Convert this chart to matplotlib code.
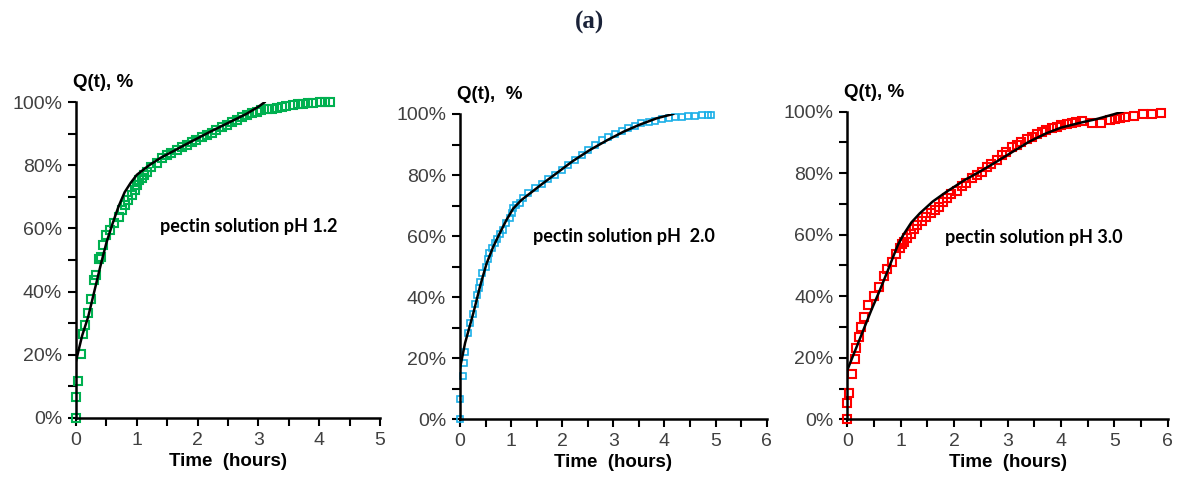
import matplotlib.pyplot as plt
from matplotlib.ticker import MultipleLocator, PercentFormatter

# Данные: экспериментальные точки (время, ч; высвобождение, %)
t_ph12 = [0, 0, 0.03, 0.08, 0.12, 0.14, 0.19, 0.25, 0.29, 0.33, 0.38, 0.41, 0.45, 0.49,
          0.56, 0.63, 0.70, 0.75, 0.81, 0.86, 0.92, 0.97, 1.00, 1.03, 1.08, 1.11, 1.16,
          1.24, 1.33, 1.41, 1.49, 1.57, 1.66, 1.74, 1.82, 1.90, 1.98, 2.07, 2.15, 2.23,
          2.31, 2.40, 2.48, 2.56, 2.64, 2.73, 2.81, 2.89, 2.97, 3.05, 3.14, 3.22, 3.30,
          3.38, 3.46, 3.57, 3.65, 3.74, 3.82, 3.90, 4.01, 4.10, 4.18]
q_ph12 = [0, 6.7, 11.6, 20.2, 26.4, 29.4, 33.1, 37.5, 43.7, 45.2, 50.3, 51.0, 54.8, 57.9,
          59.5, 61.6, 63.7, 65.9, 67.4, 69.0, 70.6, 72.2, 73.8, 75.4, 75.9, 77.0, 78.0,
          79.6, 80.7, 82.2, 83.3, 84.0, 84.9, 85.7, 86.5, 87.5, 88.1, 88.9, 89.6, 90.4,
          91.2, 92.1, 92.8, 93.9, 94.4, 95.2, 96.0, 96.5, 97.0, 97.4, 97.8, 98.0, 98.2,
          98.5, 98.7, 99.2, 99.4, 99.6, 99.8, 99.9, 100, 100, 100]

t_ph20 = [0, 0.01, 0.05, 0.08, 0.10, 0.16, 0.20, 0.25, 0.29, 0.34, 0.38, 0.40, 0.44, 0.51,
          0.54, 0.57, 0.62, 0.68, 0.73, 0.78, 0.85, 0.91, 0.98, 1.01, 1.04, 1.10, 1.17,
          1.24, 1.34, 1.47, 1.60, 1.73, 1.86, 1.99, 2.12, 2.25, 2.38, 2.51, 2.64, 2.77,
          2.90, 3.03, 3.16, 3.29, 3.42, 3.55, 3.69, 3.82, 3.95, 4.08, 4.21, 4.34, 4.47,
          4.60, 4.73, 4.86, 4.92]
q_ph20 = [0, 6.6, 14.2, 18.3, 22.2, 28.2, 31.4, 34.5, 37.8, 40.7, 42.9, 45.1, 48.0, 50.0,
          52.4, 54.6, 56.0, 57.6, 59.0, 60.7, 62.0, 64.2, 65.8, 67.5, 69.1, 70.2, 71.0,
          72.4, 74.0, 75.7, 77.1, 78.6, 80.0, 81.7, 83.3, 84.9, 86.6, 88.2, 89.8, 91.5,
          92.6, 93.4, 94.5, 95.3, 96.1, 96.9, 97.5, 97.8, 98.3, 98.6, 98.9, 99.1, 99.3,
          99.5, 99.6, 99.7, 99.7]

t_ph30 = [0, 0, 0.03, 0.09, 0.14, 0.17, 0.22, 0.26, 0.31, 0.39, 0.50, 0.60, 0.69, 0.75,
          0.83, 0.91, 0.99, 1.02, 1.06, 1.11, 1.19, 1.24, 1.31, 1.39, 1.47, 1.56, 1.64,
          1.72, 1.80, 1.87, 1.95, 2.05, 2.14, 2.23, 2.33, 2.42, 2.52, 2.61, 2.70, 2.80,
          2.89, 2.98, 3.08, 3.17, 3.26, 3.36, 3.45, 3.55, 3.64, 3.73, 3.83, 3.92, 4.01,
          4.11, 4.20, 4.29, 4.39, 4.58, 4.76, 4.92, 5.01, 5.10, 5.20, 5.36, 5.54, 5.70, 5.87]
q_ph30 = [0, 5.4, 8.7, 14.6, 19.6, 23.1, 26.9, 30.1, 33.4, 37.2, 40.1, 43.1, 46.6, 48.8,
          51.2, 53.6, 55.6, 56.9, 57.7, 58.8, 60.2, 61.8, 63.2, 64.6, 65.9, 67.0, 68.0,
          69.1, 70.7, 71.8, 73.2, 74.3, 75.8, 76.9, 78.3, 79.4, 80.5, 81.9, 83.0, 84.3,
          85.9, 87.0, 88.4, 89.2, 90.2, 91.0, 91.9, 92.7, 93.5, 94.0, 94.6, 95.1, 95.6,
          96.0, 96.4, 96.7, 97.1, 96.2, 96.4, 97.3, 97.7, 98.0, 98.3, 98.7, 99.1, 99.4, 99.7]

# Модельные кривые (аппроксимация)
tf_ph12 = [0, 0.05, 0.1, 0.2, 0.3, 0.4, 0.5, 0.6, 0.7, 0.8, 0.9, 1.0, 1.2, 1.4, 1.6,
           1.8, 2.0, 2.2, 2.4, 2.6, 2.8, 3.0, 3.1]
qf_ph12 = [18, 22, 26, 32, 40, 48, 55.5, 61.5, 67, 71.5, 74.5, 77, 80, 82.5, 84.5,
           86.6, 88.6, 90.6, 92.5, 94.4, 96.3, 98.6, 100]

tf_ph20 = [0, 0.1, 0.26, 0.4, 0.52, 0.65, 0.78, 0.9, 1.04, 1.2, 1.37, 1.6, 1.89, 2.2,
           2.54, 2.9, 3.2, 3.5, 3.85, 4.17]
qf_ph20 = [16.7, 25, 34.7, 44, 51, 56.5, 61, 65, 69, 71.8, 74, 77, 80.6, 84.5,
           88.2, 91.6, 94.2, 96.4, 98.6, 100]

tf_ph30 = [0, 0.15, 0.3, 0.45, 0.61, 0.75, 0.86, 0.95, 1.05, 1.2, 1.36, 1.6, 1.86, 2.2,
           2.48, 2.8, 3.1, 3.4, 3.73, 4.0, 4.36, 4.67, 5.0, 5.15]
qf_ph30 = [16, 22.5, 29, 35.5, 42, 48, 52.9, 56.8, 60, 64, 67, 70.8, 74, 77.8,
           80.5, 83.8, 87, 90.2, 93, 94.8, 96.4, 97.6, 99.2, 100]

panels = [
    (t_ph12, q_ph12, tf_ph12, qf_ph12, "#00B050", 5, "pectin solution pH 1.2",
     (1.38, 60.5), "Q(t), %", [0.0646, 0.1334, 0.2583, 0.6544], 5.8, 1.5),
    (t_ph20, q_ph20, tf_ph20, qf_ph20, "#1AAFE8", 6, "pectin solution pH  2.0",
     (1.43, 59.8), "Q(t),  %", [0.3908, 0.1301, 0.2606, 0.6334], 4.8, 1.2),
    (t_ph30, q_ph30, tf_ph30, qf_ph30, "#FF0000", 6, "pectin solution pH 3.0",
     (1.83, 59.0), "Q(t), %", [0.7199, 0.1301, 0.2722, 0.6382], 5.8, 1.5),
]

fig = plt.figure(figsize=(11.77, 4.82), dpi=100)

for t, q, tf, qf, color, xmax, note, note_xy, ylab, rect, ms, mew in panels:
    ax = fig.add_axes(rect)
    ax.plot(tf, qf, color="black", linewidth=1.8, zorder=3)
    ax.plot(t, q, linestyle="none", marker="s", markersize=ms, markerfacecolor="none",
            markeredgecolor=color, markeredgewidth=mew, clip_on=False, zorder=2)
    ax.set_xlim(0, xmax)
    ax.set_ylim(0, 100)
    ax.xaxis.set_major_locator(MultipleLocator(1))
    ax.xaxis.set_minor_locator(MultipleLocator(0.5))
    ax.yaxis.set_major_locator(MultipleLocator(20))
    ax.yaxis.set_minor_locator(MultipleLocator(10))
    ax.yaxis.set_major_formatter(PercentFormatter(decimals=0))
    for side in ["top", "right"]:
        ax.spines[side].set_visible(False)
    for side in ["left", "bottom"]:
        ax.spines[side].set_linewidth(1.8)
    ax.tick_params(which="both", direction="out", width=1.5, color="black")
    ax.tick_params(which="major", length=6, labelsize=14, labelcolor="#404040",
                   pad=4)
    ax.tick_params(which="minor", length=6)
    for lbl in ax.get_xticklabels() + ax.get_yticklabels():
        lbl.set_family("Liberation Sans")
    ax.text(note_xy[0], note_xy[1], note, fontsize=13, fontweight="bold",
            family="Lato", va="center", ha="left")
    ax.text(-0.01, 1.035, ylab, transform=ax.transAxes, fontsize=13.5,
            fontweight="bold", family="Liberation Sans", ha="left", va="bottom")
    ax.set_xlabel("Time  (hours)", fontsize=13.5, fontweight="bold",
                  family="Liberation Sans", labelpad=3)

fig.text(0.501, 0.953, "(a)", fontsize=18, fontweight="bold", family="Liberation Serif",
         color="#1A2238", ha="center", va="center")

fig.savefig("out.png", dpi=100)
